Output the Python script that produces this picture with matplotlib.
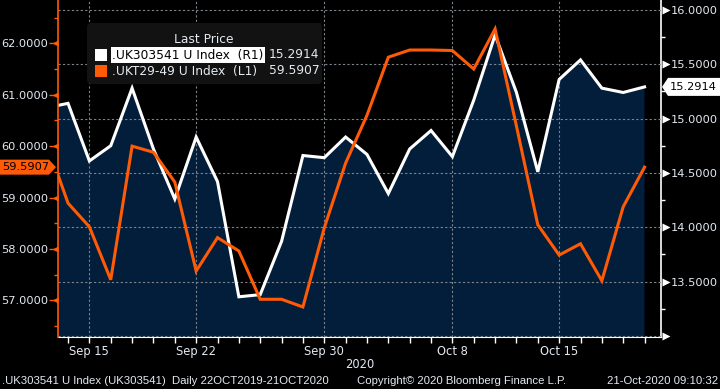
import numpy as np
import matplotlib
matplotlib.use('Agg')
import matplotlib.pyplot as plt
import matplotlib.transforms as mtrans
from matplotlib.patches import Polygon, FancyBboxPatch, Rectangle
from matplotlib.ticker import MultipleLocator, FixedLocator, NullFormatter, FuncFormatter

# trading days shown (Sep 11 is partly clipped at the left edge)
days = ['2020-09-11', '2020-09-14', '2020-09-15', '2020-09-16', '2020-09-17', '2020-09-18',
        '2020-09-21', '2020-09-22', '2020-09-23', '2020-09-24', '2020-09-25',
        '2020-09-28', '2020-09-29', '2020-09-30', '2020-10-01', '2020-10-02',
        '2020-10-05', '2020-10-06', '2020-10-07', '2020-10-08', '2020-10-09',
        '2020-10-12', '2020-10-13', '2020-10-14', '2020-10-15', '2020-10-16',
        '2020-10-19', '2020-10-20', '2020-10-21']

# .UK303541 U Index (right axis, white, filled)
uk303541 = [15.10, 15.14, 14.61, 14.75, 15.28, 14.72, 14.26, 14.83, 14.42, 13.36,
            13.38, 13.87, 14.66, 14.64, 14.83, 14.67, 14.31, 14.72, 14.89, 14.65,
            15.17, 15.77, 15.24, 14.51, 15.36, 15.54, 15.28, 15.24, 15.2914]

# .UKT29-49 U Index (left axis, orange)
ukt29_49 = [60.06, 58.89, 58.43, 57.40, 60.00, 59.88, 59.30, 57.57, 58.22, 57.96,
            57.02, 57.02, 56.87, 58.41, 59.67, 60.60, 61.73, 61.87, 61.87, 61.86,
            61.50, 62.28, 60.39, 58.47, 57.88, 58.10, 57.38, 58.82, 59.5907]

label_days = ['2020-09-15', '2020-09-22', '2020-09-30', '2020-10-08', '2020-10-15']
label_text = ['Sep 15', 'Sep 22', 'Sep 30', 'Oct 8', 'Oct 15']

right_ticks = [13.5, 14.0, 14.5, 15.0, 15.5, 16.0]
left_ticks = [57, 58, 59, 60, 61, 62]

navy = '#031e3b'
orange = '#ff5a05'
txt = '#e4eaf1'
gridc = '#7d848c'

W, H = 720, 389
fig = plt.figure(figsize=(7.2, 3.89), dpi=100, facecolor='black')
ax = fig.add_axes([58 / W, 1 - 337 / H, (661 - 58) / W, 337 / H])
ax.set_facecolor('black')
ax2 = ax.twinx()

x = np.arange(len(days))

# white series + fill on the base axes (right ticks)
ax.fill_between(x, uk303541, 12.0, color=navy, lw=0, zorder=1)
ax.plot(x, uk303541, color='white', lw=2.2, zorder=3, solid_joinstyle='miter')
ax2.plot(x, ukt29_49, color=orange, lw=2.2, zorder=3, solid_joinstyle='miter')

ax.set_xlim(0.53, 28.77)
ax.set_ylim(12.99, 16.091)
ax2.set_ylim(56.286, 62.843)

# x axis
ax.xaxis.set_major_locator(FixedLocator([days.index(d) for d in label_days]))
ax.xaxis.set_minor_locator(FixedLocator(list(x)))
ax.set_xticklabels(label_text)
ax.tick_params(axis='x', which='both', length=4, width=1, color='white', direction='out',
               labelsize=8.3, labelcolor=txt, pad=2)

# right axis
ax.yaxis.tick_right()
ax.yaxis.set_major_locator(FixedLocator([13.0] + right_ticks))
ax.yaxis.set_minor_locator(MultipleLocator(0.25))
ax.yaxis.set_major_formatter(FuncFormatter(lambda v, p: '' if v < 13.2 else f'{v:.4f}'))
ax.tick_params(axis='y', which='major', length=0, pad=7, labelsize=8.2, labelcolor=txt)
ax.tick_params(axis='y', which='minor', length=3, width=1, color='white')

# left axis
ax2.yaxis.tick_left()
ax2.yaxis.set_major_locator(FixedLocator(left_ticks))
ax2.yaxis.set_minor_locator(MultipleLocator(0.5))
ax2.yaxis.set_major_formatter(FuncFormatter(lambda v, p: f'{v:.4f}'))
ax2.tick_params(axis='y', which='major', length=6.5, width=1, color=orange, pad=0.5,
                labelsize=8.2, labelcolor=txt)
ax2.tick_params(axis='y', which='minor', length=3, width=1, color=orange)

# grid
ax.set_axisbelow(False)
ax.grid(True, which='major', color=gridc, lw=0.8, ls=(0, (2, 2)), zorder=2)
for gl in ax.get_xgridlines() + ax.get_ygridlines():
    gl.set_zorder(2)

# spines
for s in ['top', 'left']:
    ax.spines[s].set_visible(False)
ax.spines['right'].set_color('white')
ax.spines['bottom'].set_color('white')
for s in ['top', 'right', 'bottom']:
    ax2.spines[s].set_visible(False)
ax2.spines['left'].set_color(orange)
ax2.spines['left'].set_linewidth(1.2)
ax.spines['right'].set_linewidth(1.2)

# triangle tick markers
tr_r = mtrans.blended_transform_factory(ax.transAxes, ax.transData)
ax.plot(np.full(len(right_ticks), 1 + 5 / 603), right_ticks, ls='none', marker='>', ms=5.5,
        color='white', mec='none', transform=tr_r, clip_on=False, zorder=5)
ax.plot([1 + 5 / 603], [13.0], ls='none', marker='>', ms=5.5, color='white', mec='none',
        transform=tr_r, clip_on=False, zorder=5)
tr_l = mtrans.blended_transform_factory(ax2.transAxes, ax2.transData)
ax2.plot(np.full(len(left_ticks), -3 / 603), left_ticks, ls='none', marker='<', ms=4.5,
         color=orange, mec='none', transform=tr_l, clip_on=False, zorder=5)

# axis year label
fig.text(359.5 / W, 1 - 365 / H, '2020', color=txt, fontsize=8.3, ha='center', va='center')

# last value tags
ident = mtrans.IdentityTransform()
yo = ax2.transData.transform((0, ukt29_49[-1]))[1]
fig.add_artist(Polygon([[0, yo - 7.5], [49, yo - 7.5], [56, yo], [49, yo + 7.5], [0, yo + 7.5]],
                       closed=True, fc=orange, ec='none', transform=ident))
fig.text(26 / W, yo / H, f'{ukt29_49[-1]:.4f}', color='black', fontsize=8.2,
         ha='center', va='center')
yw = ax.transData.transform((0, uk303541[-1]))[1]
fig.add_artist(Polygon([[662, yw], [668, yw - 9], [720, yw - 9], [720, yw + 9], [668, yw + 9]],
                       closed=True, fc='white', ec='none', transform=ident))
fig.text(693.5 / W, yw / H, f'{uk303541[-1]:.4f}', color='black', fontsize=8.2,
         ha='center', va='center')

# legend panel
fig.add_artist(FancyBboxPatch((87, H - 84), 235, 61, boxstyle='round,pad=0,rounding_size=4',
                              fc='#121212', ec='none', transform=ident))
fig.text(204 / W, 1 - 39.5 / H, 'Last Price', color=txt, fontsize=8.8, ha='center', va='center')
fig.add_artist(Rectangle((95, H - 60.5), 11.5, 11.5, fc='white', ec='none', transform=ident))
fig.add_artist(Rectangle((95, H - 76.5), 11.5, 11.5, fc=orange, ec='none', transform=ident))
fig.text(112 / W, 1 - 55 / H, '.UK303541 U Index  (R1)', color='black', fontsize=8.8,
         ha='left', va='center', bbox=dict(fc='white', ec='none', pad=1))
fig.text(269 / W, 1 - 55 / H, f'{uk303541[-1]:.4f}', color=txt, fontsize=8.8,
         ha='left', va='center')
fig.text(112 / W, 1 - 71 / H, '.UKT29-49 U Index  (L1)', color=txt, fontsize=8.8,
         ha='left', va='center')
fig.text(269 / W, 1 - 71 / H, f'{ukt29_49[-1]:.4f}', color=txt, fontsize=8.8,
         ha='left', va='center')

# footer
foot = dict(color=txt, fontsize=8.2, family='Liberation Sans', va='center')
fig.text(2 / W, 1 - 381 / H, '.UK303541 U Index (UK303541)  Daily 22OCT2019-21OCT2020',
         ha='left', **foot)
fig.text(357 / W, 1 - 381 / H, 'Copyright\u00a9 2020 Bloomberg Finance L.P.', ha='left', **foot)
fig.text(718 / W, 1 - 381 / H, '21-Oct-2020 09:10:32', ha='right', **foot)

fig.savefig('out.png', dpi=100, facecolor='black')
